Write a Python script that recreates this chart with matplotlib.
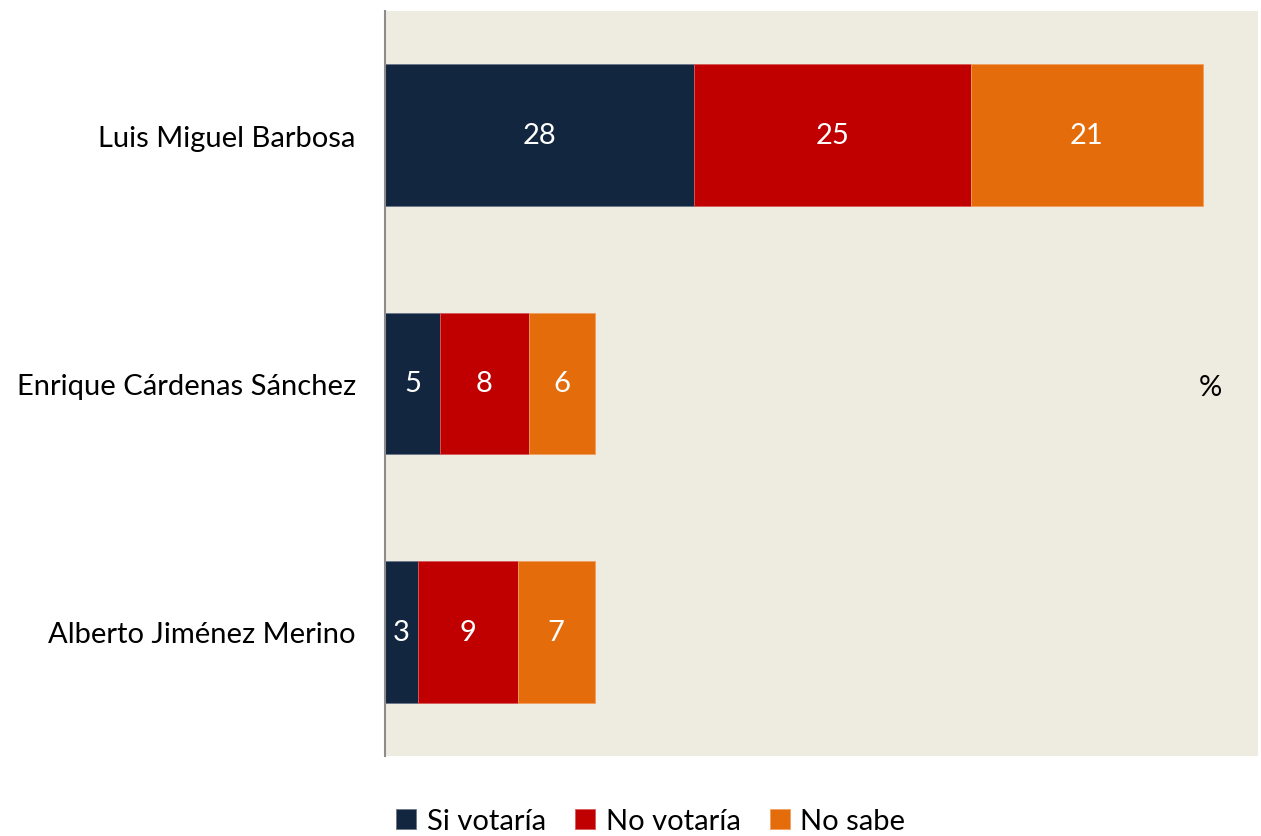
import matplotlib
matplotlib.use("Agg")
import matplotlib.pyplot as plt
import numpy as np

plt.rcParams['font.family'] = ['Lato', 'DejaVu Sans']

candidates = ["Luis Miguel Barbosa", "Enrique Cárdenas Sánchez", "Alberto Jiménez Merino"]
si_votaria = [28, 5, 3]
no_votaria = [25, 8, 9]
no_sabe = [21, 6, 7]
series_names = ["Si votaría", "No votaría", "No sabe"]
colors = ["#12263F", "#C00000", "#E46C0A"]
edges = ["#6a7788", "#d65a5a", "#f0a060"]

fig = plt.figure(figsize=(12.61, 8.37), dpi=100)
ax = fig.add_axes([0.3053, 0.0956, 0.6923, 0.8901])
ax.set_facecolor("#EEEBE0")

y = np.arange(len(candidates))
left = np.zeros(len(candidates))
for vals, name, c, ec in zip([si_votaria, no_votaria, no_sabe], series_names, colors, edges):
    bars = ax.barh(y, vals, left=left, height=0.57, color=c, edgecolor=ec,
                   linewidth=0.6, label=name)
    for b, v in zip(bars, vals):
        ax.text(b.get_x() + b.get_width() / 2, b.get_y() + b.get_height() / 2,
                str(v), ha="center", va="center", color="white", fontsize=21)
    left += np.array(vals)

ax.set_xlim(0, 79)
ax.set_ylim(2.5, -0.5)
ax.set_yticks(y)
ax.set_yticklabels(candidates, fontsize=21)
ax.tick_params(axis="y", length=0, pad=21)
ax.set_xticks([])
for s in ["top", "right", "bottom"]:
    ax.spines[s].set_visible(False)
ax.spines["left"].set_color("#8c8c8c")
ax.spines["left"].set_linewidth(1.5)

ax.text(0.946, 0.495, "%", transform=ax.transAxes, ha="center", va="center",
        fontsize=21)

fig.legend(loc="center", bbox_to_anchor=(0.516, 0.018), ncol=3, frameon=False,
           fontsize=21, handlelength=0.7, handleheight=0.7, handletextpad=0.35,
           columnspacing=1.0)

fig.savefig("out.png", dpi=100)
